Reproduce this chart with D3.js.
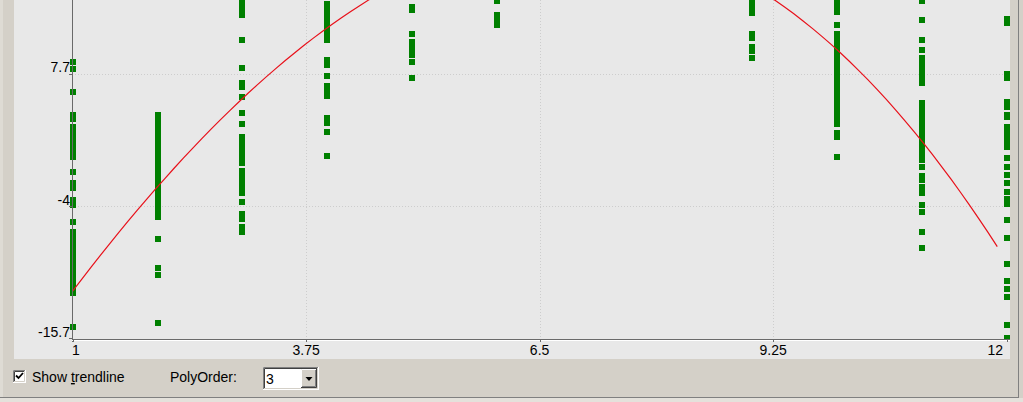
<!DOCTYPE html>
<html>
<head>
<meta charset="utf-8">
<script src="https://cdn.jsdelivr.net/npm/d3@7"></script>
<style>
  html, body { margin: 0; padding: 0; background: #d4d0c8; }
  svg { display: block; }
  text { font-family: "Liberation Sans", Arial, sans-serif; font-size: 14px; fill: #000; }
</style>
</head>
<body>
<svg id="chart" width="1023" height="402"></svg>
<script>
// axis ticks (the next one up, 19.4, is above the cropped top)
const xTicks = [1, 3.75, 6.5, 9.25, 12];
const yTicks = [-15.7, -4, 7.7];

// x position of each column of points
const pointX = [1, 2, 3, 4, 5, 6, 9, 10, 11, 12];
// y values per column (top part is cropped)
const pointY = [
  [8.71, 8.14, 6.08, 4.05, 3.69, 3.0, 2.6, 2.2, 1.8, 1.4, 1.0, 0.6, 0.3, -0.95, -1.96, -2.41, -3.47, -3.91, -5.41,
   -6.3, -6.8, -7.3, -7.8, -8.3, -8.8, -9.3, -9.8, -10.3, -10.7, -11.2, -11.69, -14.67],
  [4.07, 3.6, 3.2, 2.8, 2.4, 2.0, 1.6, 1.2, 0.8, 0.4, 0.0, -0.4, -0.8, -1.2, -1.6, -2.0, -2.4, -2.8, -3.2, -3.6,
   -4.0, -4.4, -4.97, -6.92, -9.48, -10.1, -14.34],
  [13.95, 13.45, 12.89, 10.68, 8.18, 6.88, 6.52, 5.67, 4.25, 3.23, 2.1, 1.7, 1.3, 0.9, 0.5, 0.1, -0.2, -0.9, -1.3,
   -1.7, -2.1, -2.5, -2.85, -3.62, -4.7, -5.15, -5.9, -6.34],
  [13.9, 13.4, 12.9, 12.4, 11.9, 11.4, 10.9, 10.7, 8.87, 8.47, 7.5, 6.57, 6.08, 5.73, 3.76, 3.31, 2.52, 0.4],
  [13.6, 13.36, 11.19, 10.5, 10.1, 9.71, 9.33, 8.73, 7.32],
  [14.13, 12.85, 12.45, 12.05],
  [13.95, 13.51, 13.07, 11.21, 10.9, 10.1, 9.75, 9.06],
  [14.04, 13.6, 13.16, 12.0, 11.2, 10.8, 10.4, 10.0, 9.6, 9.2, 8.8, 8.4, 8.0, 7.6, 7.2, 6.8, 6.4, 6.0, 5.6, 5.2,
   4.8, 4.4, 4.0, 3.6, 3.21, 2.46, 2.1, 0.33],
  [14.13, 12.45, 10.68, 9.8, 9.08, 8.7, 8.3, 7.9, 7.5, 7.2, 6.88, 5.15, 4.75, 4.35, 3.95, 3.55, 3.15, 2.75, 2.35,
   1.95, 1.55, 1.15, 0.75, 0.4, 0.11, -0.58, -1.35, -1.7, -2.32, -2.89, -3.91, -4.5, -6.32, -7.68],
  [12.54, 12.14, 7.67, 7.28, 5.2, 4.76, 4.09, 3.87, 3.03, 2.65, 2.3, 1.95, 1.6, 1.22, 0.27, -0.59, -1.26, -1.96,
   -2.72, -3.42, -3.82, -5.24, -6.85, -9.15, -10.63, -11.38, -12.02, -14.49, -15.67]
];

// samples read along the red trendline, it gets fitted with a cubic (PolyOrder 3)
const trendX = [1, 1.48, 2, 2.54, 3, 3.52, 4, 4.5, 9.25, 9.72, 10, 10.51, 11, 11.57, 11.89];
const trendY = [-11.72, -6.71, -2.29, 2.13, 5.52, 8.91, 11.8, 14.2, 14.2, 11.71, 9.8, 6.26, 1.69, -4.06, -7.6];
const polyOrder = 3;

const svg = d3.select("#chart");
const W = 1023, H = 402;

const plotLeft = 14, plotRight = 1010, plotBottom = 359;
const axisX = 72, axisY = 339;

const x = d3.scaleLinear().domain([1, 12]).range([72.6, 1006.6]);
const y = d3.scaleLinear().domain([-15.7, 7.7]).range([338.3, 73.7]);

// window frame
svg.append("rect").attr("width", W).attr("height", H).attr("fill", "#d4d0c8");
svg.append("rect").attr("x", 0).attr("y", 0).attr("width", 3).attr("height", 397).attr("fill", "#dedbd4");
svg.append("line").attr("x1", 0).attr("x2", 1018).attr("y1", 397.5).attr("y2", 397.5).attr("stroke", "#808080");
svg.append("line").attr("x1", 1018.5).attr("x2", 1018.5).attr("y1", 0).attr("y2", 398).attr("stroke", "#808080");
svg.append("rect").attr("x", 0).attr("y", 398).attr("width", W).attr("height", 4).attr("fill", "#e4e1db");

// plot area
svg.append("rect").attr("x", plotLeft).attr("y", 0)
  .attr("width", plotRight - plotLeft).attr("height", plotBottom).attr("fill", "#e8e8e8");

const plot = svg.append("g");

// gridlines
plot.selectAll(".hgrid").data(yTicks.filter(d => d > -15.7)).join("line")
  .attr("x1", axisX).attr("x2", plotRight)
  .attr("y1", d => Math.round(y(d)) + 0.5).attr("y2", d => Math.round(y(d)) + 0.5)
  .attr("stroke", "#cdcdcd").attr("stroke-dasharray", "1,2");
plot.selectAll(".vgrid").data(xTicks.slice(1, -1)).join("line")
  .attr("x1", d => Math.round(x(d)) + 0.5).attr("x2", d => Math.round(x(d)) + 0.5)
  .attr("y1", 0).attr("y2", axisY)
  .attr("stroke", "#cdcdcd").attr("stroke-dasharray", "1,2");

// axes
svg.append("line").attr("x1", axisX + 0.5).attr("x2", axisX + 0.5).attr("y1", 0).attr("y2", axisY + 3)
  .attr("stroke", "#6a6a6a");
svg.append("line").attr("x1", axisX).attr("x2", plotRight).attr("y1", axisY + 0.5).attr("y2", axisY + 0.5)
  .attr("stroke", "#6a6a6a");
svg.append("line").attr("x1", axisX).attr("x2", plotRight).attr("y1", axisY + 1.5).attr("y2", axisY + 1.5)
  .attr("stroke", "#ffffff");

svg.selectAll(".xtick").data(xTicks).join("line")
  .attr("x1", d => Math.round(x(d)) + 0.5).attr("x2", d => Math.round(x(d)) + 0.5)
  .attr("y1", axisY).attr("y2", axisY + 3).attr("stroke", "#6a6a6a");
svg.selectAll(".ytick").data(yTicks).join("line")
  .attr("x1", axisX - 3).attr("x2", axisX)
  .attr("y1", d => Math.round(y(d)) + 0.5).attr("y2", d => Math.round(y(d)) + 0.5)
  .attr("stroke", "#6a6a6a");

// tick labels
svg.selectAll(".xlab").data(xTicks).join("text")
  .attr("x", (d, i) => i === 0 ? axisX : i === xTicks.length - 1 ? 1003 : x(d))
  .attr("y", 355)
  .attr("text-anchor", (d, i) => i === 0 ? "start" : i === xTicks.length - 1 ? "end" : "middle")
  .text(d => d);
svg.selectAll(".ylab").data(yTicks).join("text")
  .attr("x", 70).attr("y", d => y(d) - 1.5)
  .attr("text-anchor", "end")
  .text(d => d);

// points
const points = pointX.flatMap((px, i) => pointY[i].map(v => [px, v]));
plot.selectAll(".pt").data(points).join("rect")
  .attr("x", d => Math.round(x(d[0]) - 3))
  .attr("y", d => Math.round(y(d[1]) - 3))
  .attr("width", 6).attr("height", 6)
  .attr("fill", "#008000");

// least squares polynomial fit
function polyfit(xs, ys, order) {
  const n = order + 1;
  const A = Array.from({length: n}, () => new Array(n + 1).fill(0));
  xs.forEach((xv, k) => {
    for (let r = 0; r < n; r++) {
      for (let c = 0; c < n; c++) A[r][c] += Math.pow(xv, r + c);
      A[r][n] += ys[k] * Math.pow(xv, r);
    }
  });
  for (let i = 0; i < n; i++) {
    let p = i;
    for (let r = i + 1; r < n; r++) if (Math.abs(A[r][i]) > Math.abs(A[p][i])) p = r;
    [A[i], A[p]] = [A[p], A[i]];
    for (let r = 0; r < n; r++) {
      if (r === i) continue;
      const f = A[r][i] / A[i][i];
      for (let c = i; c <= n; c++) A[r][c] -= f * A[i][c];
    }
  }
  return A.map((row, i) => row[n] / row[i]);
}

const coef = polyfit(trendX, trendY, polyOrder);
const poly = t => coef.reduce((s, c, i) => s + c * Math.pow(t, i), 0);
const trendPts = d3.range(0, 101).map(i => {
  const t = trendX[0] + (trendX[trendX.length - 1] - trendX[0]) * i / 100;
  return [t, poly(t)];
});

plot.append("path")
  .datum(trendPts)
  .attr("d", d3.line().x(d => x(d[0])).y(d => y(d[1])))
  .attr("fill", "none")
  .attr("stroke", "#e8101a")
  .attr("stroke-width", 1.2);

// controls under the chart
function sunken(g, x0, y0, w, h) {
  g.append("rect").attr("x", x0).attr("y", y0).attr("width", w).attr("height", h).attr("fill", "#ffffff");
  g.append("path").attr("d", `M${x0 + 0.5},${y0 + h - 1}V${y0 + 0.5}H${x0 + w - 1}`).attr("stroke", "#808080").attr("fill", "none");
  g.append("path").attr("d", `M${x0 + 1.5},${y0 + h - 2}V${y0 + 1.5}H${x0 + w - 2}`).attr("stroke", "#404040").attr("fill", "none");
  g.append("path").attr("d", `M${x0},${y0 + h - 0.5}H${x0 + w - 0.5}V${y0}`).attr("stroke", "#ffffff").attr("fill", "none");
  g.append("path").attr("d", `M${x0 + 1},${y0 + h - 1.5}H${x0 + w - 1.5}V${y0 + 1}`).attr("stroke", "#d4d0c8").attr("fill", "none");
}

const ctl = svg.append("g");
sunken(ctl, 13, 370, 13, 13);
ctl.append("path").attr("d", "M16,375.5l2.5,2.5l4.5,-5").attr("stroke", "#000").attr("stroke-width", 1.8).attr("fill", "none");

const lab = ctl.append("text").attr("x", 32).attr("y", 382);
lab.append("tspan").text("Show ");
lab.append("tspan").attr("text-decoration", "underline").text("t");
lab.append("tspan").text("rendline");

ctl.append("text").attr("x", 170).attr("y", 382).text("PolyOrder:");

sunken(ctl, 263, 367, 56, 23);
ctl.append("text").attr("x", 266).attr("y", 384).text(polyOrder);
ctl.append("rect").attr("x", 301).attr("y", 369).attr("width", 16).attr("height", 19).attr("fill", "#d4d0c8");
ctl.append("path").attr("d", "M301.5,387V369.5H316").attr("stroke", "#ffffff").attr("fill", "none");
ctl.append("path").attr("d", "M301,387.5H316.5V369").attr("stroke", "#404040").attr("fill", "none");
ctl.append("path").attr("d", "M302,386.5H315.5V370").attr("stroke", "#808080").attr("fill", "none");
ctl.append("path").attr("d", "M305.5,377h7l-3.5,4z").attr("fill", "#000");
</script>
</body>
</html>
